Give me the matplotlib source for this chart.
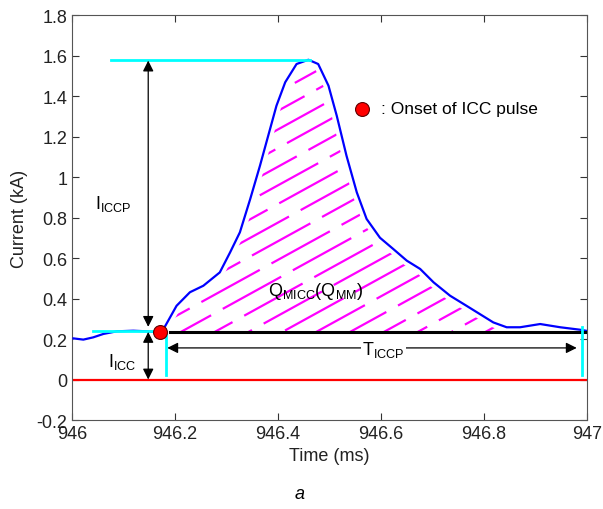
import numpy as np
import matplotlib
matplotlib.use("Agg")
import matplotlib.pyplot as plt

plt.rcParams['font.family'] = ['Liberation Sans', 'DejaVu Sans']
plt.rcParams['mathtext.fontset'] = 'custom'
plt.rcParams['mathtext.rm'] = 'Liberation Sans'

### data ###
t_ms = [946.003, 946.022, 946.041, 946.061, 946.087, 946.119, 946.145, 946.168,
        946.181, 946.203, 946.229, 946.255, 946.287, 946.307, 946.326, 946.346,
        946.365, 946.381, 946.397, 946.414, 946.436, 946.459, 946.478, 946.498,
        946.514, 946.533, 946.553, 946.572, 946.598, 946.624, 946.650, 946.676,
        946.702, 946.734, 946.766, 946.792, 946.818, 946.844, 946.870, 946.909,
        946.948, 946.986, 947.0]
i_ka = [0.203, 0.197, 0.208, 0.225, 0.238, 0.241, 0.238, 0.233,
        0.264, 0.364, 0.431, 0.463, 0.529, 0.628, 0.727, 0.891,
        1.056, 1.204, 1.352, 1.468, 1.558, 1.579, 1.558, 1.451,
        1.303, 1.105, 0.924, 0.793, 0.700, 0.644, 0.587, 0.546,
        0.480, 0.414, 0.364, 0.323, 0.282, 0.258, 0.258, 0.274,
        0.258, 0.246, 0.24]

t_onset = 946.171
i_onset = 0.236
i_peak = 1.58
t_peak = 946.462
t_end = 946.99
i_base = 0.235

xticks = [946, 946.2, 946.4, 946.6, 946.8, 947]
xtick_labels = ["946", "946.2", "946.4", "946.6", "946.8", "947"]
yticks = [-0.2, 0, 0.2, 0.4, 0.6, 0.8, 1, 1.2, 1.4, 1.6, 1.8]
ytick_labels = ["-0.2", "0", "0.2", "0.4", "0.6", "0.8", "1", "1.2", "1.4", "1.6", "1.8"]

FS = 13

fig = plt.figure(figsize=(6.03, 5.10), dpi=100)
ax = fig.add_axes([0.1194, 0.1745, 0.8541, 0.7941])

t = np.array(t_ms)
i = np.array(i_ka)

# hatched area (charge) between curve and baseline
mask = t >= t_onset
tp = np.concatenate([[t_onset], t[mask]])
ip = np.concatenate([[i_base], i[mask]])
poly = ax.fill_between(tp, i_base, ip, color='none', lw=0)
clip = poly.get_paths()[0]

slope = 1.4      # kA/ms, visual hatch slope
spacing = 0.092  # kA between hatch lines
xs = np.array([946.1, 947.05])
k = 0
for c in np.arange(i_base - slope * 0.9, 1.7, spacing):
    ln, = ax.plot(xs, c + slope * (xs - 946.1), color='#ff00ff', lw=1.6,
                  linestyle=(k * 11 % 37, (30, 6)), zorder=2)
    ln.set_clip_path(clip, ax.transData)
    k += 1

# white halo keeps the hatch off the curve, like the original
ax.plot(t, i, color='white', lw=7, zorder=2.5, solid_capstyle='butt')
ax.plot(t, i, color='#0000ff', lw=1.6, zorder=3)

# zero line and baseline
ax.plot([946, 947], [0, 0], color='#ff0000', lw=1.6, zorder=2)
ax.plot([946.19, 947], [i_base, i_base], color='black', lw=2.2, zorder=3)

# cyan guide lines
ax.plot([946.076, t_peak], [i_peak, i_peak], color='#00ffff', lw=2, zorder=3)
ax.plot([946.041, 946.168], [0.238, 0.238], color='#00ffff', lw=2, zorder=3)
ax.plot([946.183, 946.183], [i_base, 0.02], color='#00ffff', lw=2, zorder=3)
ax.plot([t_end, t_end], [0.26, 0.02], color='#00ffff', lw=2, zorder=3)

# arrows
ap = dict(arrowstyle='<|-|>', color='black', lw=0.9, mutation_scale=16,
          shrinkA=0, shrinkB=0)
ax.annotate('', xy=(946.148, 1.575), xytext=(946.148, 0.26), arrowprops=ap)
ax.annotate('', xy=(946.148, 0.235), xytext=(946.148, 0.0), arrowprops=ap)
ax.annotate('', xy=(946.185, 0.156), xytext=(946.98, 0.156), arrowprops=ap)

ax.text(946.045, 0.87, r'$\mathregular{I_{ICCP}}$', fontsize=FS, va='center', ha='left')
ax.text(946.07, 0.09, r'$\mathregular{I_{ICC}}$', fontsize=FS, va='center', ha='left')
ax.text(946.605, 0.15, r'$\mathregular{T_{ICCP}}$', fontsize=FS, va='center', ha='center',
        bbox=dict(facecolor='white', edgecolor='none', pad=1))
ax.text(946.38, 0.44, r'$\mathregular{Q_{MICC}(Q_{MM})}$', fontsize=FS, va='center', ha='left',
        zorder=4)

# onset marker and its key
ax.plot([t_onset], [i_onset], 'o', color='#ff0000', mec='#600000', mew=0.8, ms=10, zorder=5)
ax.plot([946.563], [1.336], 'o', color='#ff0000', mec='#600000', mew=0.8, ms=10, zorder=5)
ax.text(946.6, 1.336, ': Onset of ICC pulse', fontsize=FS - 0.5, va='center', ha='left')

ax.set_xlim(946, 947)
ax.set_ylim(-0.2, 1.8)
ax.set_xticks(xticks)
ax.set_xticklabels(xtick_labels)
ax.set_yticks(yticks)
ax.set_yticklabels(ytick_labels)
ax.tick_params(direction='in', top=True, right=True, length=5, labelsize=FS,
               colors='#333333', labelcolor='#222222')
for s in ax.spines.values():
    s.set_color('#555555')
ax.set_xlabel('Time (ms)', fontsize=FS, color='#222222', labelpad=4)
ax.set_ylabel('Current (kA)', fontsize=FS, color='#222222', labelpad=6)

fig.text(0.4975, 0.03, 'a', fontsize=FS, style='italic', ha='center', va='center')

fig.savefig('out.png', dpi=100)
